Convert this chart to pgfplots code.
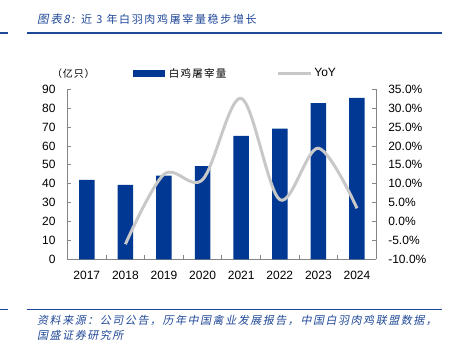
\documentclass[border=0pt]{standalone}
\usepackage{fontspec}
\setmainfont{Liberation Sans}
\usepackage{pgfplots}
\pgfplotsset{compat=1.18}
\newfontfamily\cjk{Noto Sans CJK SC}[LetterSpace=8]
\newfontfamily\cjkl{Noto Sans CJK SC}[LetterSpace=12]
\newfontfamily\cjkt{Noto Sans CJK SC}[LetterSpace=15]
\newfontfamily\cjkit{Noto Sans CJK SC}[FakeSlant=0.2,LetterSpace=14]
\definecolor{barblue}{RGB}{0,56,148}
\definecolor{titleblue}{RGB}{32,72,152}
\definecolor{yoygray}{RGB}{200,200,200}
\definecolor{axgray}{RGB}{134,134,134}
\begin{document}
\begin{tikzpicture}[x=1pt,y=1pt]
\useasboundingbox (0,0) rectangle (451,342);
% header
\draw[titleblue, line width=1.3pt] (0,309) -- (8,309);
\draw[titleblue, line width=1.3pt] (27,309) -- (442,309);
\node[anchor=west, inner sep=0pt, text=titleblue, font=\fontsize{11.5}{13}\cjkit] at (37,323) {图表8:};
\node[anchor=west, inner sep=0pt, text=titleblue, font=\fontsize{11}{13}\cjkt] at (81,323) {近 3 年白羽肉鸡屠宰量稳步增长};
% footer
\draw[titleblue, line width=1.3pt] (0,32.7) -- (8,32.7);
\draw[titleblue, line width=1.3pt] (27,32.7) -- (442,32.7);
\node[anchor=west, inner sep=0pt, text=titleblue, font=\fontsize{11}{13}\cjkit] at (37,22) {资料来源：公司公告，历年中国禽业发展报告，中国白羽肉鸡联盟数据，};
\node[anchor=west, inner sep=0pt, text=titleblue, font=\fontsize{11}{13}\cjkit] at (37,7) {国盛证券研究所};
% unit
\node[anchor=west, inner sep=0pt, font=\fontsize{10}{12}\cjk] at (52,268.7) {（亿只）};

\begin{axis}[
  at={(67.5pt,82.7pt)}, anchor=south west,
  scale only axis, width=308.8pt, height=170pt,
  xmin=-0.5, xmax=7.5, ymin=0, ymax=90,
  axis x line*=bottom, axis y line*=left,
  axis line style={axgray, line width=0.8pt},
  tick style={axgray, line width=0.8pt},
  major tick length=4pt, minor tick length=4pt,
  tick align=inside,
  xtick={0,...,7},
  xticklabels={2017,2018,2019,2020,2021,2022,2023,2024},
  major x tick style={draw=none},
  minor xtick={0.5,1.5,2.5,3.5,4.5,5.5,6.5},
  ytick={0,10,...,90},
  /pgf/number format/assume math mode=true,
  tick label style={font=\fontsize{12}{14}\selectfont},
  y tick label style={xshift=-8.5pt},
  x tick label style={yshift=-8.4pt},
]
\addplot[ybar, bar width=15.5pt, fill=barblue, draw=none]
  coordinates {(0,42.0) (1,39.4) (2,44.3) (3,49.3) (4,65.3) (5,69.2) (6,82.7) (7,85.5)};
\end{axis}

\begin{axis}[
  at={(67.5pt,82.7pt)}, anchor=south west,
  scale only axis, width=308.8pt, height=170pt,
  xmin=-0.5, xmax=7.5, ymin=-10, ymax=35,
  axis x line=none, axis y line*=right,
  axis line style={axgray, line width=0.8pt},
  tick style={axgray, line width=0.8pt},
  major tick length=4pt, tick align=inside,
  ytick={-10,-5,0,5,10,15,20,25,30,35},
  yticklabels={-10.0\%,-5.0\%,0.0\%,5.0\%,10.0\%,15.0\%,20.0\%,25.0\%,30.0\%,35.0\%},
  tick label style={font=\fontsize{12}{14}\selectfont},
  y tick label style={xshift=8.5pt},
  legend style={at={(axis description cs:0.213,1.094)}, anchor=west,
    draw=none, fill=none, inner sep=0pt, font=\fontsize{12}{14}\selectfont,
    /tikz/every even column/.append style={column sep=48pt}},
  legend columns=2,
]
\addlegendimage{legend image code/.code={\fill[barblue] (0pt,-3.3pt) rectangle (31pt,3.3pt);}}
\addlegendentry{{\fontsize{10.5}{12}\cjkl\hspace{2pt}白鸡屠宰量}}
\addplot[yoygray, line width=3pt, smooth, tension=0.55,
  legend image code/.code={\draw[yoygray, line width=3pt] (0pt,0pt) -- (33pt,0pt);}]
  coordinates {(1,-6.0) (2,12.5) (3,11.1) (4,32.6) (5,5.8) (6,19.4) (7,3.5)};
\addlegendentry{YoY}
\end{axis}
\end{tikzpicture}
\end{document}
